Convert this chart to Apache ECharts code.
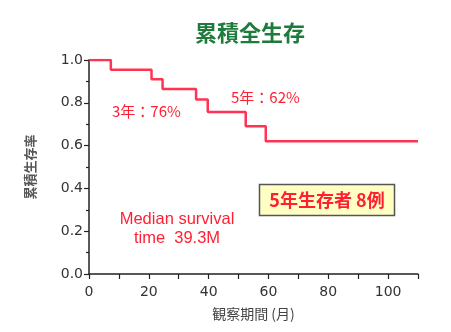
<!DOCTYPE html>
<html><head><meta charset="utf-8">
<script src="https://cdn.jsdelivr.net/npm/echarts@6/dist/echarts.min.js"></script>
<style>html,body{margin:0;padding:0;background:#fff}#c{width:451px;height:332px}</style>
</head><body><div id="c"></div>
<script>
// Kaplan-Meier step points (months, survival)
const months = [0, 7.3, 20.9, 24.6, 35.8, 39.7, 52.4, 59.1, 110];
const survival = [1.0, 0.955, 0.91, 0.865, 0.815, 0.757, 0.69, 0.62, 0.62];
const xTicks = [0, 20, 40, 60, 80, 100];
const yTicks = [0.0, 0.2, 0.4, 0.6, 0.8, 1.0];
const titleText = '累積全生存';
const xName = '観察期間 (月)';
const yName = '累積生存率';
const note3y = '3年：76%';
const note5y = '5年：62%';
const medianLines = ['Median survival', 'time  39.3M'];
const boxText = '5年生存者 8例';

const chart = echarts.init(document.getElementById('c'), null, {renderer: 'canvas'});
const jp = '"Noto Sans CJK JP", sans-serif';
const red = '#ff1f33';
chart.setOption({
  animation: false,
  title: {text: titleText, left: 245, textAlign: 'center', top: 17,
    textStyle: {color: '#1e7b3c', fontSize: 22, fontWeight: 'bold', fontFamily: jp}},
  grid: {left: 89, right: 33, top: 60, bottom: 58},
  xAxis: {type: 'value', min: 0, max: 110, interval: 10,
    name: xName, nameLocation: 'middle', nameGap: 33,
    nameTextStyle: {color: '#444', fontSize: 14, fontFamily: jp},
    axisLine: {lineStyle: {color: '#222', width: 1.5}},
    axisTick: {length: 5, lineStyle: {color: '#222', width: 1.2}},
    splitLine: {show: false},
    axisLabel: {color: '#333', fontSize: 14, fontFamily: '"DejaVu Sans"', margin: 11,
      formatter: v => xTicks.indexOf(v) >= 0 ? String(v) : ''}},
  yAxis: {type: 'value', min: 0, max: 1, interval: 0.2,
    name: yName, nameLocation: 'middle', nameGap: 52, nameRotate: 90,
    nameTextStyle: {color: '#555', fontSize: 13, fontWeight: 'bold', fontFamily: jp},
    axisLine: {show: true, lineStyle: {color: '#222', width: 1.5}},
    axisTick: {show: true, length: 5, lineStyle: {color: '#222', width: 1.2}},
    minorTick: {show: true, splitNumber: 2, length: 3, lineStyle: {color: '#222', width: 1.2}},
    splitLine: {show: false},
    axisLabel: {color: '#333', fontSize: 14, fontFamily: '"DejaVu Sans"', margin: 6,
      formatter: v => { const t = yTicks.find(y => Math.abs(y - v) < 1e-6); return t === undefined ? '' : t.toFixed(1); }}},
  series: [{type: 'line', step: 'end', showSymbol: false,
    data: months.map((m, i) => [m, survival[i]]),
    lineStyle: {color: '#ff3352', width: 2.5}}],
  graphic: [
    {type: 'text', left: 112, top: 104, style: {text: note3y, fill: red, font: '15px ' + jp}},
    {type: 'text', left: 231, top: 90, style: {text: note5y, fill: red, font: '15px ' + jp}},
    {type: 'text', x: 177, y: 219, style: {text: medianLines[0], fill: red, font: '16.5px "Liberation Sans", Arial', textAlign: 'center', textVerticalAlign: 'middle'}},
    {type: 'text', x: 177, y: 238, style: {text: medianLines[1], fill: red, font: '16.5px "Liberation Sans", Arial', textAlign: 'center', textVerticalAlign: 'middle'}},
    {type: 'rect', shape: {x: 259.5, y: 184.5, width: 135, height: 31},
      style: {fill: '#ffffc4', stroke: '#555', lineWidth: 1.5}},
    {type: 'text', x: 327, y: 200, style: {text: boxText, fill: red, font: 'bold 18px ' + jp, textAlign: 'center', textVerticalAlign: 'middle'}}
  ]
});
</script></body></html>
